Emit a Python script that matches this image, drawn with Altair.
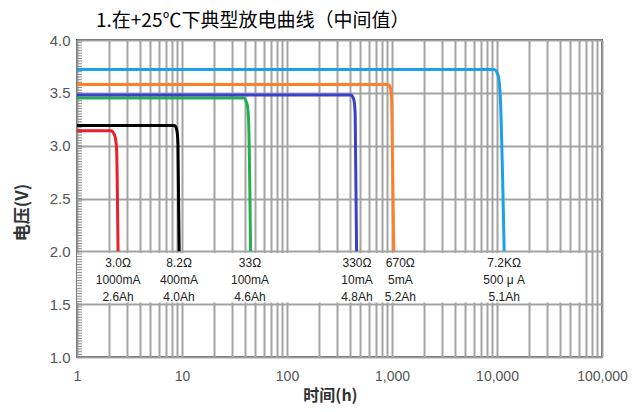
import altair as alt
import pandas as pd

title_text = "1.在+25℃下典型放电曲线（中间值）"

series = ["3.0Ω", "8.2Ω", "33Ω", "330Ω", "670Ω", "7.2KΩ"]
colors = ["#e8212b", "#000000", "#22b04a", "#3b3fcf", "#ff7f27", "#1ba1e6"]

t_red = [1, 2.1, 2.28, 2.38, 2.46]
v_red = [3.14, 3.14, 3.10, 2.98, 2.0]
t_black = [1, 8.5, 8.95, 9.15, 9.4]
v_black = [3.19, 3.19, 3.14, 3.02, 2.0]
t_green = [1, 38.5, 41.5, 43.0, 45.0]
v_green = [3.45, 3.45, 3.40, 3.26, 2.0]
t_blue = [1, 405, 432, 446, 460]
v_blue = [3.48, 3.48, 3.44, 3.30, 2.0]
t_orange = [1, 920, 968, 995, 1040]
v_orange = [3.58, 3.58, 3.54, 3.40, 2.0]
t_lblue = [1, 9400, 10200, 10700, 11700]
v_lblue = [3.72, 3.72, 3.67, 3.50, 2.0]

curve_t = [t_red, t_black, t_green, t_blue, t_orange, t_lblue]
curve_v = [v_red, v_black, v_green, v_blue, v_orange, v_lblue]

label_x = [2.46, 9.37, 44.4, 464, 1200, 11700]
label_cur = ["1000mA", "400mA", "100mA", "10mA", "5mA", "500 μ A"]
label_cap = ["2.6Ah", "4.0Ah", "4.6Ah", "4.8Ah", "5.2Ah", "5.1Ah"]
label_line_v = [1.89, 1.73, 1.57]

x_labels = [1, 10, 100, 1000, 10000, 100000]
x_grid = [m * 10 ** e for e in range(5) for m in range(1, 10)] + [100000]
y_ticks = [1.0, 1.5, 2.0, 2.5, 3.0, 3.5, 4.0]
y_minor = [round(1 + 0.025 * i, 3) for i in range(121)]

band_x = [1, 63000]
band_y = [1.515, 1.985]

# tables
rows = []
for name, ts, vs in zip(series, curve_t, curve_v):
    for i, (t, v) in enumerate(zip(ts, vs)):
        rows.append({"series": name, "t": t, "v": v, "i": i})
curves = pd.DataFrame(rows)

lab_rows = []
for x, a, b, c in zip(label_x, series, label_cur, label_cap):
    for txt, yv in zip([a, b, c], label_line_v):
        lab_rows.append({"t": x, "v": yv, "txt": txt})
labels = pd.DataFrame(lab_rows)

band = pd.DataFrame({"x1": [band_x[0]], "x2": [band_x[1]], "y1": [band_y[0]], "y2": [band_y[1]]})
minor = pd.DataFrame({"v": y_minor})

xs = alt.Scale(type="log", domain=[1, 100000])
ys = alt.Scale(domain=[1, 4])

label_expr = "indexof([1,10,100,1000,10000,100000], datum.value) >= 0 ? format(datum.value, ',') : ''"

x_axis = alt.Axis(
    values=x_grid, labelExpr=label_expr, labelOverlap=False, labelFlush=False,
    labelPadding=12, labelFontSize=14, title="时间(h)", titleX=253, titleY=38,
    titleBaseline="middle", titleAlign="center", titleFontSize=16,
)
y_axis = alt.Axis(
    values=y_ticks, format=".1f", labelPadding=7, title="电压(V)",
    titleX=-55, titleY=172, titleAngle=270, titleAlign="center", titleBaseline="middle",
)

band_layer = alt.Chart(band).mark_rect(color="white").encode(
    x=alt.X("x1:Q", scale=xs, axis=x_axis),
    x2="x2:Q",
    y=alt.Y("y1:Q", scale=ys, axis=y_axis),
    y2="y2:Q",
)

minor_layer = alt.Chart(minor).mark_rule(color="#888888", strokeWidth=1).encode(
    y=alt.Y("v:Q", scale=ys, axis=y_axis),
    x=alt.value(0),
    x2=alt.value(5),
)

line_layer = alt.Chart(curves).mark_line(strokeWidth=3, interpolate="monotone").encode(
    x=alt.X("t:Q", scale=xs, axis=x_axis),
    y=alt.Y("v:Q", scale=ys, axis=y_axis),
    color=alt.Color("series:N", scale=alt.Scale(domain=series, range=colors), legend=None),
    order="i:Q",
)

text_layer = alt.Chart(labels).mark_text(
    font="Liberation Sans", fontSize=12, color="#222222", baseline="middle", align="center"
).encode(
    x=alt.X("t:Q", scale=xs, axis=x_axis),
    y=alt.Y("v:Q", scale=ys, axis=y_axis),
    text="txt:N",
)

chart = alt.layer(band_layer, minor_layer, line_layer, text_layer).properties(
    width=525,
    height=317,
    autosize=alt.AutoSizeParams(type="none"),
    padding={"left": 69, "top": 32, "right": 26, "bottom": 47},
    title=alt.TitleParams(
        text=title_text, anchor="start", frame="group", dx=19, dy=2, offset=4,
        font="Noto Sans CJK SC", fontSize=19, fontWeight="normal", color="#000000",
    ),
).configure_view(
    stroke="#555555", strokeWidth=2
).configure_axis(
    domain=False, ticks=False, grid=True, gridColor="#a3a3a3", gridWidth=2,
    labelColor="#555555", labelFont="Liberation Sans", labelFontSize=15,
    titleFont="Noto Sans CJK SC", titleFontSize=17, titleFontWeight="bold", titleColor="#333333",
)

chart.save("out.html", embed_options={"renderer": "svg", "actions": False})
